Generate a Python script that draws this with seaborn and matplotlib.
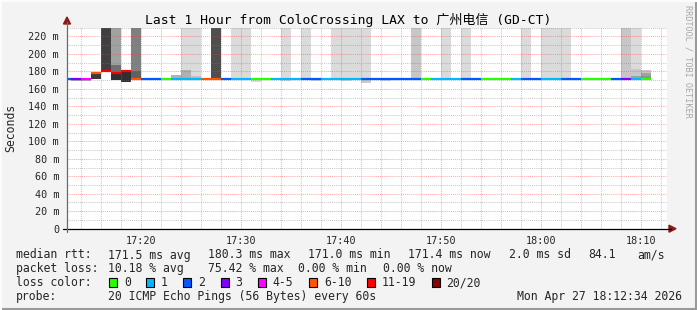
import numpy as np
import pandas as pd
import matplotlib
matplotlib.use("Agg")
import matplotlib.pyplot as plt
from matplotlib.patches import Rectangle, Polygon
from matplotlib.lines import Line2D
import seaborn as sns

# ---------------- data ----------------
# minute index = minutes after 17:00 (bin start)
minutes = list(range(12, 71))
loss_codes = ['2', '3', '4-5', '6-10', '11-19', '11-19', '11-19', '6-10', '2', '2',
              '0', '1', '1', '1', '6-10', '6-10', '2', '1', '1', '0',
              '0', '1', '1', '1', '2', '2', '1', '1', '1', '1',
              '2', '2', '2', '2', '2', '2', '0', '1', '1', '1',
              '2', '2', '0', '0', '0', '1', '2', '2', '1', '1',
              '2', '2', '0', '0', '0', '2', '3', '1', '0']
median_rtt = [171.5] * len(minutes)
median_rtt[3] = 177.6   # 17:15
median_rtt[4] = 180.5   # 17:16
median_rtt[5] = 177.6   # 17:17
median_rtt[6] = 180.5   # 17:18

# smoke bands: minute, low, high (ms), ping density
smoke_minute = [13, 14, 15, 16, 17, 17, 17, 18, 19, 19,
                23, 24, 24, 25, 25, 27, 29, 30, 31, 34,
                36, 37, 39, 40, 41, 42, 42, 44, 47, 50,
                52, 55, 58, 60, 61, 62, 68, 69, 69, 69,
                70, 70, 70]
smoke_low = [168.5, 168.5, 171.5, 180.5, 187.0, 179.4, 169.7, 168.1, 180.2, 170.8,
             171.5, 181.3, 171.5, 174.5, 171.5, 171.5, 170.0, 170.0, 168.0, 169.0,
             170.0, 169.5, 170.0, 169.0, 170.0, 171.5, 167.0, 169.5, 171.0, 171.0,
             171.0, 171.5, 171.0, 171.0, 171.0, 171.0, 171.0, 182.8, 174.5, 171.5,
             178.3, 175.3, 171.5]
smoke_high = [171.5, 171.5, 179.0, 240.0, 240.0, 187.0, 177.6, 180.5, 240.0, 180.2,
              176.4, 240.0, 181.3, 240.0, 174.5, 240.0, 240.0, 240.0, 171.5, 240.0,
              240.0, 171.5, 240.0, 240.0, 240.0, 240.0, 171.5, 171.5, 240.0, 240.0,
              240.0, 173.0, 240.0, 240.0, 240.0, 240.0, 240.0, 240.0, 182.8, 174.5,
              181.6, 178.3, 175.3]
smoke_density = [0.31, 0.31, 0.77, 0.75, 0.37, 0.56, 0.81, 0.81, 0.50, 0.62,
                 0.30, 0.14, 0.31, 0.14, 0.25, 0.69, 0.14, 0.14, 0.14, 0.14,
                 0.14, 0.14, 0.14, 0.14, 0.14, 0.14, 0.20, 0.14, 0.22, 0.14,
                 0.14, 0.14, 0.14, 0.14, 0.14, 0.14, 0.22, 0.14, 0.22, 0.37,
                 0.22, 0.37, 0.44]

loss_labels = ['0', '1', '2', '3', '4-5', '6-10', '11-19', '20/20']
loss_colors = ['#26ff00', '#00b8ff', '#0059ff', '#7e00ff', '#ff00ff', '#ff5500', '#ff0000', '#8b0000']

x_tick_minutes = [20, 30, 40, 50, 60, 70]
x_tick_labels = ['17:20', '17:30', '17:40', '17:50', '18:00', '18:10']
y_ticks = list(range(0, 221, 20))
y_tick_labels = ['0'] + [f'{v} m' for v in y_ticks[1:]]

# ---------------- figure ----------------
W, H = 697, 310
sns.set_style("white")
plt.rcParams['font.family'] = ['DejaVu Sans Mono', 'Noto Sans CJK SC']
MONO = ['DejaVu Sans Mono', 'Noto Sans CJK SC']

fig = plt.figure(figsize=(W / 100, H / 100), dpi=100, facecolor='#f3f3f3')


def fx(x):
    return x / W


def fy(y):
    return 1 - y / H


ax_left, ax_right, ax_top, ax_bot = 67, 667, 27.7, 228.7
ax = fig.add_axes([fx(ax_left), fy(ax_bot), (ax_right - ax_left) / W, (ax_bot - ax_top) / H])
ax.set_facecolor('white')

x0 = 12 + 37 / 60
ax.set_xlim(x0, x0 + 60)
ax.set_ylim(0, (ax_bot - ax_top) / 0.8864)

# smoke
smoke_colors = [str(round(1 - d, 3)) for d in smoke_density]
ax.bar(smoke_minute, np.array(smoke_high) - np.array(smoke_low), bottom=smoke_low,
       width=1.0, align='edge', color=smoke_colors, linewidth=0, zorder=1)

# median line coloured by loss
rows = []
for m, v, c in zip(minutes, median_rtt, loss_codes):
    rows.append({'t': m, 'rtt': v, 'loss': c, 'unit': m})
    rows.append({'t': m + 1, 'rtt': v, 'loss': c, 'unit': m})
df = pd.DataFrame(rows)
palette = dict(zip(loss_labels, loss_colors))
sns.lineplot(data=df, x='t', y='rtt', hue='loss', units='unit', estimator=None,
             palette=palette, legend=False, linewidth=1.6, ax=ax, zorder=3,
             solid_capstyle='butt')

# grid (semi-transparent, drawn over the smoke like rrdtool)
ax.set_axisbelow(False)
ax.set_xticks(x_tick_minutes)
ax.set_xticks(list(range(14, 73, 2)), minor=True)
ax.set_yticks(y_ticks)
ax.set_yticks(list(range(10, 231, 20)), minor=True)
ax.grid(which='major', color='#ff3a3a', alpha=0.42, linestyle=(0, (1, 1)), linewidth=0.75)
ax.grid(which='minor', color='#7a7a7a', alpha=0.4, linestyle=(0, (1, 1)), linewidth=0.75)
ax.set_xticklabels(x_tick_labels, fontsize=7.3, family=MONO)
ax.set_yticklabels(y_tick_labels, fontsize=7.3, family=MONO)
ax.tick_params(axis='x', which='major', length=2.2, width=0.75, color='#e08080', pad=3)
ax.tick_params(axis='x', which='minor', length=0)
ax.tick_params(axis='y', which='major', length=2.2, width=0.75, color='#666666', pad=3.5)
ax.tick_params(axis='y', which='minor', length=0)
ax.set_xlabel('')
ax.set_ylabel('')
for s in ax.spines.values():
    s.set_visible(False)

# axes lines and arrows
fig.add_artist(Line2D([fx(63), fx(671)], [fy(ax_bot), fy(ax_bot)], color='black', linewidth=0.9))
fig.add_artist(Line2D([fx(ax_left), fx(ax_left)], [fy(232), fy(22)], color='#6a6a6a', linewidth=0.9))
fig.add_artist(Polygon([[fx(63.5), fy(24)], [fx(70.5), fy(24)], [fx(67), fy(17)]],
                       closed=True, color='#8b1a1a', transform=fig.transFigure))
fig.add_artist(Polygon([[fx(669), fy(225.2)], [fx(669), fy(232.2)], [fx(676), fy(228.7)]],
                       closed=True, color='#8b1a1a', transform=fig.transFigure))

# texts
fig.text(fx(348), fy(20), 'Last 1 Hour from ColoCrossing LAX to 广州电信 (GD-CT)',
         ha='center', va='center', fontsize=9.4, family=MONO, color='black')
fig.text(fx(11), fy(128), 'Seconds', rotation=90, ha='center', va='center',
         fontsize=8.3, family=MONO)
fig.text(fx(688), fy(5), 'RRDTOOL / TOBI OETIKER', rotation=270, ha='center', va='top',
         fontsize=6.1, family=MONO, color='#a8a8a8')

LF = 8.3
r1, r2, r3, r4 = 255, 268.5, 282.7, 296.7
row1 = [(16, 'median rtt:'), (108, '171.5 ms avg'), (208, '180.3 ms max'), (308, '171.0 ms min'),
        (408.5, '171.4 ms now'), (508.5, '2.0 ms sd'), (588.5, '84.1'), (637.5, 'am/s')]
row2 = [(16, 'packet loss:'), (108, '10.18 % avg'), (208, '75.42 % max'),
        (298, '0.00 % min'), (383, '0.00 % now')]
for x, t in row1:
    fig.text(fx(x), fy(r1), t, ha='left', va='center', fontsize=LF, family=MONO)
for x, t in row2:
    fig.text(fx(x), fy(r2), t, ha='left', va='center', fontsize=LF, family=MONO)
fig.text(fx(16), fy(r3), 'loss color:', ha='left', va='center', fontsize=LF, family=MONO)
box_x = [109, 146, 183, 220.5, 257.5, 309, 367, 431.5]
for bx, lab, col in zip(box_x, loss_labels, loss_colors):
    fig.add_artist(Rectangle((fx(bx), fy(r3 + 4.5)), 8 / W, 9 / H, facecolor=col,
                             edgecolor='black', linewidth=0.8, transform=fig.transFigure))
    fig.text(fx(bx + 15), fy(r3), lab, ha='left', va='center', fontsize=LF, family=MONO)
fig.text(fx(16), fy(r4), 'probe:', ha='left', va='center', fontsize=LF, family=MONO)
fig.text(fx(108), fy(r4), '20 ICMP Echo Pings (56 Bytes) every 60s', ha='left', va='center',
         fontsize=LF, family=MONO)
fig.text(fx(682), fy(r4), 'Mon Apr 27 18:12:34 2026', ha='right', va='center',
         fontsize=LF, family=MONO)

# canvas border (3D style)
fig.add_artist(Line2D([0, 1], [fy(309), fy(309)], color='#9a9a9a', linewidth=1.5))
fig.add_artist(Line2D([fx(696), fx(696)], [0, 1], color='#9a9a9a', linewidth=1.5))
fig.add_artist(Line2D([0, 1], [fy(0.5), fy(0.5)], color='#fcfcfc', linewidth=1.5))
fig.add_artist(Line2D([fx(0.5), fx(0.5)], [0, 1], color='#fcfcfc', linewidth=1.5))

fig.savefig('out.png', dpi=100, facecolor=fig.get_facecolor())
